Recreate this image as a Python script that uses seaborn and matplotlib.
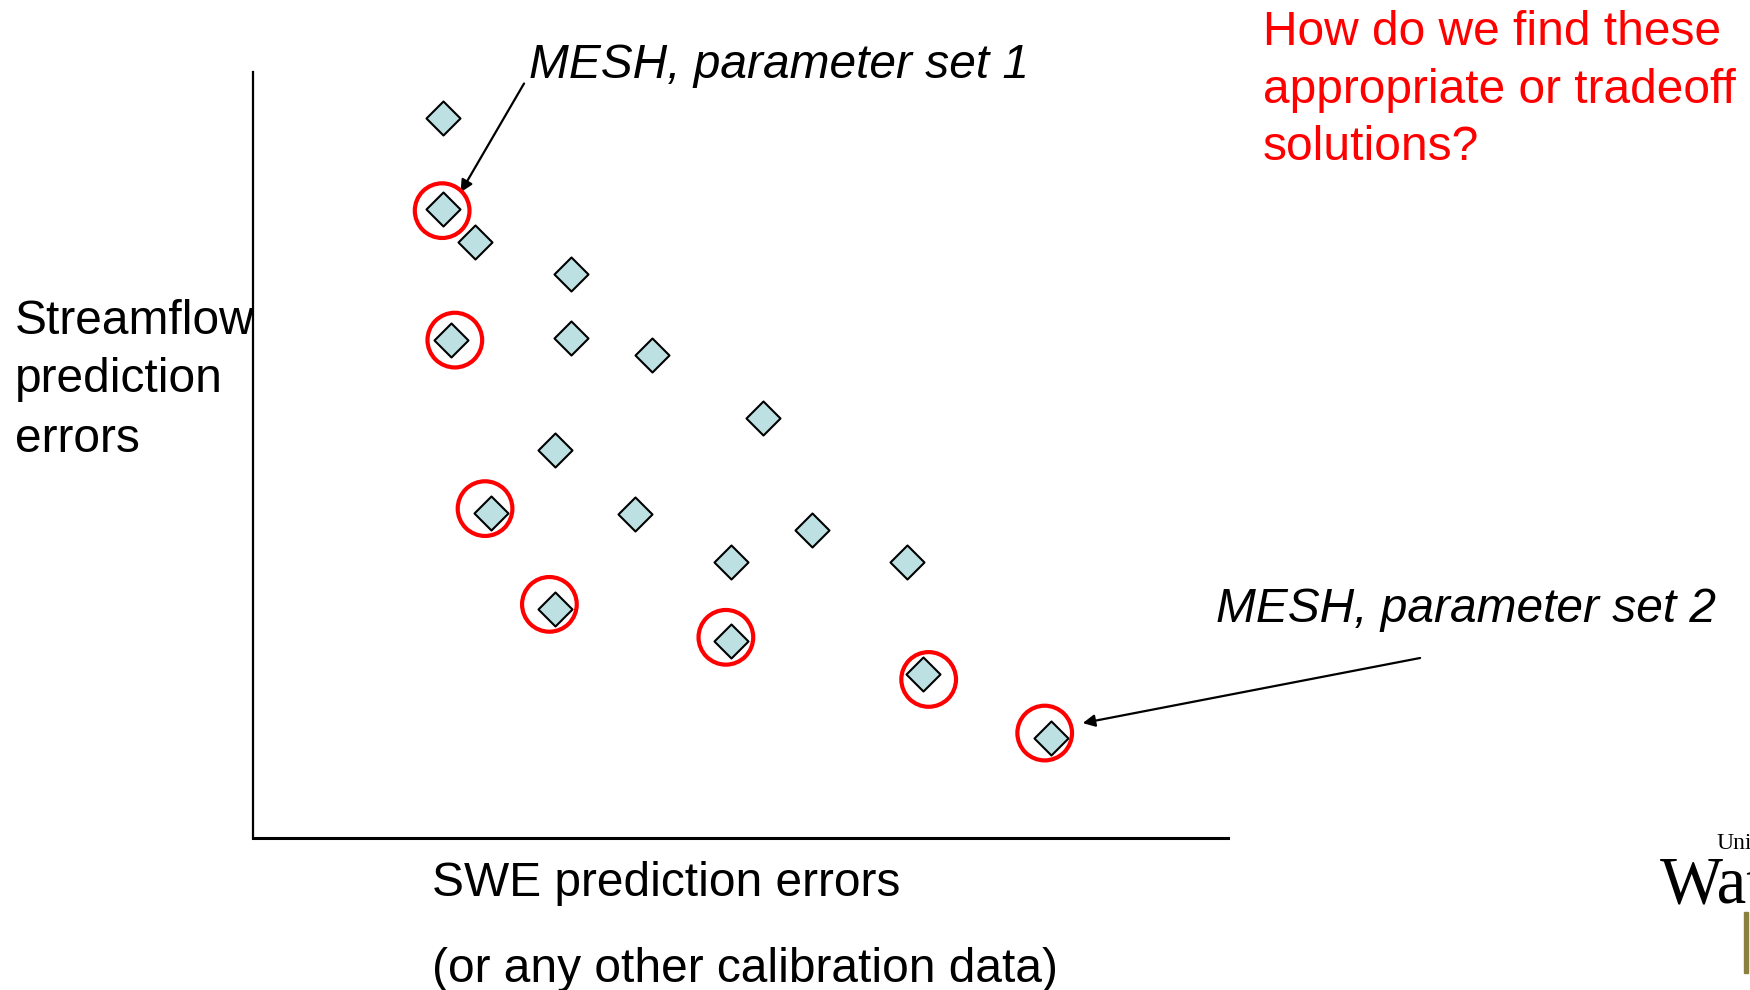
import matplotlib
matplotlib.use("Agg")
import matplotlib.pyplot as plt
import matplotlib.patches as mpatches
import seaborn as sns
import pandas as pd

# trial parameter sets: SWE error (x) vs streamflow error (y), relative units
swe_error = [19.5, 19.5, 22.8, 32.6, 20.3, 32.6, 40.9, 52.3, 31.0, 24.4,
             39.2, 57.3, 49.0, 67.1, 31.0, 49.0, 68.7, 81.8]
flow_error = [94.0, 82.1, 77.8, 73.6, 65.0, 65.3, 63.1, 54.8, 50.6, 42.4,
              42.3, 40.2, 36.0, 36.0, 29.9, 25.7, 21.4, 13.1]

# tradeoff solutions, circled in red
front_swe = [19.4, 20.7, 23.8, 30.4, 48.5, 69.3, 81.2]
front_flow = [81.9, 65.0, 43.0, 30.5, 26.2, 20.7, 13.7]

question_lines = ["How do we find these", "appropriate or tradeoff", "solutions?"]
ylabel_lines = ["Streamflow", "prediction", "errors"]
xlabel_lines = ["SWE prediction errors", "(or any other calibration data)"]

W, H = 1750, 990


def fx(px):
    return px / W


def fy(py):
    return 1 - py / H


sns.set_theme(style="white")
plt.rcParams["font.family"] = ["Liberation Sans", "DejaVu Sans"]
plt.rcParams["text.color"] = "black"

fig = plt.figure(figsize=(17.5, 9.9), dpi=100)
ax = fig.add_axes([fx(253), fy(838), fx(1228) - fx(253), fy(72) - fy(838)])

df = pd.DataFrame({"swe": swe_error, "flow": flow_error})
sns.scatterplot(data=df, x="swe", y="flow", marker="D", s=300,
                color="#BDE0E3", edgecolor="black", linewidth=1.5, ax=ax, zorder=3)
ax.scatter(front_swe, front_flow, s=1550, marker="o", facecolors="none",
           edgecolors="#FF0000", linewidths=3.0, zorder=4)

ax.set_xlim(0, 100)
ax.set_ylim(0, 100)
ax.set_xticks([])
ax.set_yticks([])
ax.set_xlabel("")
ax.set_ylabel("")
for side in ["top", "right"]:
    ax.spines[side].set_visible(False)
ax.spines["left"].set_color("black")
ax.spines["left"].set_linewidth(1.6)
ax.spines["bottom"].set_color("black")
ax.spines["bottom"].set_linewidth(2.2)
ax.patch.set_alpha(0)

fs = 34.5
arrow = dict(arrowstyle="-|>", color="black", lw=1.6, mutation_scale=18,
             shrinkA=0, shrinkB=0)
ax.annotate("", xy=(21.3, 84.3), xytext=(27.8, 98.5), arrowprops=arrow,
            annotation_clip=False)
ax.annotate("", xy=(85.1, 15.0), xytext=(119.7, 23.5), arrowprops=arrow,
            annotation_clip=False)

fig.text(fx(529), fy(66), "MESH, parameter set 1", fontsize=fs, style="italic",
         ha="left", va="center")
fig.text(fx(1216), fy(610), "MESH, parameter set 2", fontsize=fs, style="italic",
         ha="left", va="center")
fig.text(fx(1263), fy(10), "\n".join(question_lines), fontsize=fs, color="#FF0000",
         ha="left", va="top", linespacing=1.36)
fig.text(fx(15), fy(380), "\n".join(ylabel_lines), fontsize=fs, color="black",
         ha="left", va="center", linespacing=1.4)
fig.text(fx(432), fy(883), xlabel_lines[0], fontsize=fs, ha="left", va="center")
fig.text(fx(432), fy(969), xlabel_lines[1], fontsize=fs, ha="left", va="center")

# cropped university logo in the corner
fig.text(fx(1716), fy(849), "Uni", fontsize=17, family="Liberation Serif",
         ha="left", va="baseline")
fig.text(fx(1660), fy(902), "Wat", fontsize=48, family="Liberation Serif",
         ha="left", va="baseline")
fig.patches.append(mpatches.Rectangle((fx(1744), fy(973)), fx(4), fy(912) - fy(973),
                                      transform=fig.transFigure, color="#8A8040"))

fig.savefig("out.png", dpi=100)
